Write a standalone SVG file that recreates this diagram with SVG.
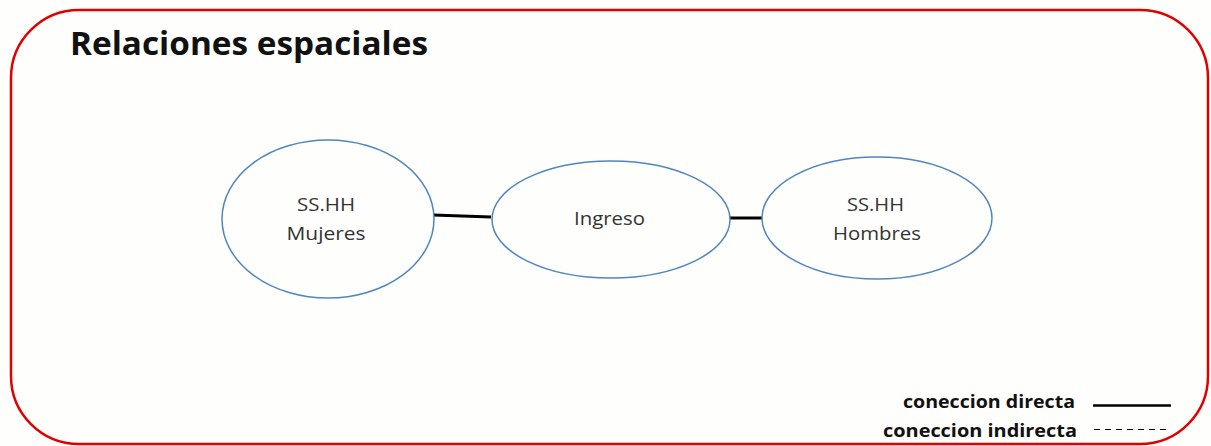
<svg xmlns="http://www.w3.org/2000/svg" width="1211" height="446" viewBox="0 0 1211 446">
<style>
.node{fill:#fefefc;stroke:#4f86c0;stroke-width:1.5}
.lbl{font-family:"Open Sans","Liberation Sans",sans-serif;font-size:19px;fill:#333333;text-anchor:middle}
.conn{stroke:#000;stroke-width:3;fill:none}
.leg{font-family:"Open Sans","Liberation Sans",sans-serif;font-size:18px;font-weight:bold;fill:#111}
</style>
<rect x="0" y="0" width="1211" height="446" fill="#fefefc"/>
<rect id="frame" x="11" y="10" width="1197" height="434" rx="68" ry="68" fill="#fefefc" stroke="#e00000" stroke-width="2.5"/>
<text id="title" x="70" y="55" font-family="'Open Sans','Liberation Sans',sans-serif" font-weight="bold" font-size="32" fill="#111" textLength="358" lengthAdjust="spacingAndGlyphs">Relaciones espaciales</text>
<g id="connectors">
<line class="conn" x1="433" y1="215" x2="491" y2="217"/>
<line class="conn" x1="730" y1="218" x2="764" y2="218"/>
</g>
<g id="n-mujeres">
<ellipse class="node" cx="328" cy="219" rx="106" ry="79"/>
<text class="lbl" x="326" y="211" textLength="58" lengthAdjust="spacingAndGlyphs">SS.HH</text>
<text class="lbl" x="326" y="240" textLength="79" lengthAdjust="spacingAndGlyphs">Mujeres</text>
</g>
<g id="n-ingreso">
<ellipse class="node" cx="611" cy="219.5" rx="119" ry="58.5"/>
<text class="lbl" x="609.5" y="225" textLength="71" lengthAdjust="spacingAndGlyphs">Ingreso</text>
</g>
<g id="n-hombres">
<ellipse class="node" cx="877" cy="218" rx="115" ry="61"/>
<text class="lbl" x="875.5" y="211" textLength="57" lengthAdjust="spacingAndGlyphs">SS.HH</text>
<text class="lbl" x="877" y="240" textLength="88" lengthAdjust="spacingAndGlyphs">Hombres</text>
</g>
<g id="legend">
<text class="leg" x="903" y="408" textLength="172" lengthAdjust="spacingAndGlyphs">coneccion directa</text>
<line x1="1093" y1="405.5" x2="1171" y2="405.5" stroke="#000" stroke-width="2.5"/>
<text class="leg" x="883" y="437" textLength="194" lengthAdjust="spacingAndGlyphs">coneccion indirecta</text>
<line x1="1094" y1="429.5" x2="1166" y2="429.5" stroke="#000" stroke-width="1" stroke-dasharray="6,5"/>
</g>
</svg>
